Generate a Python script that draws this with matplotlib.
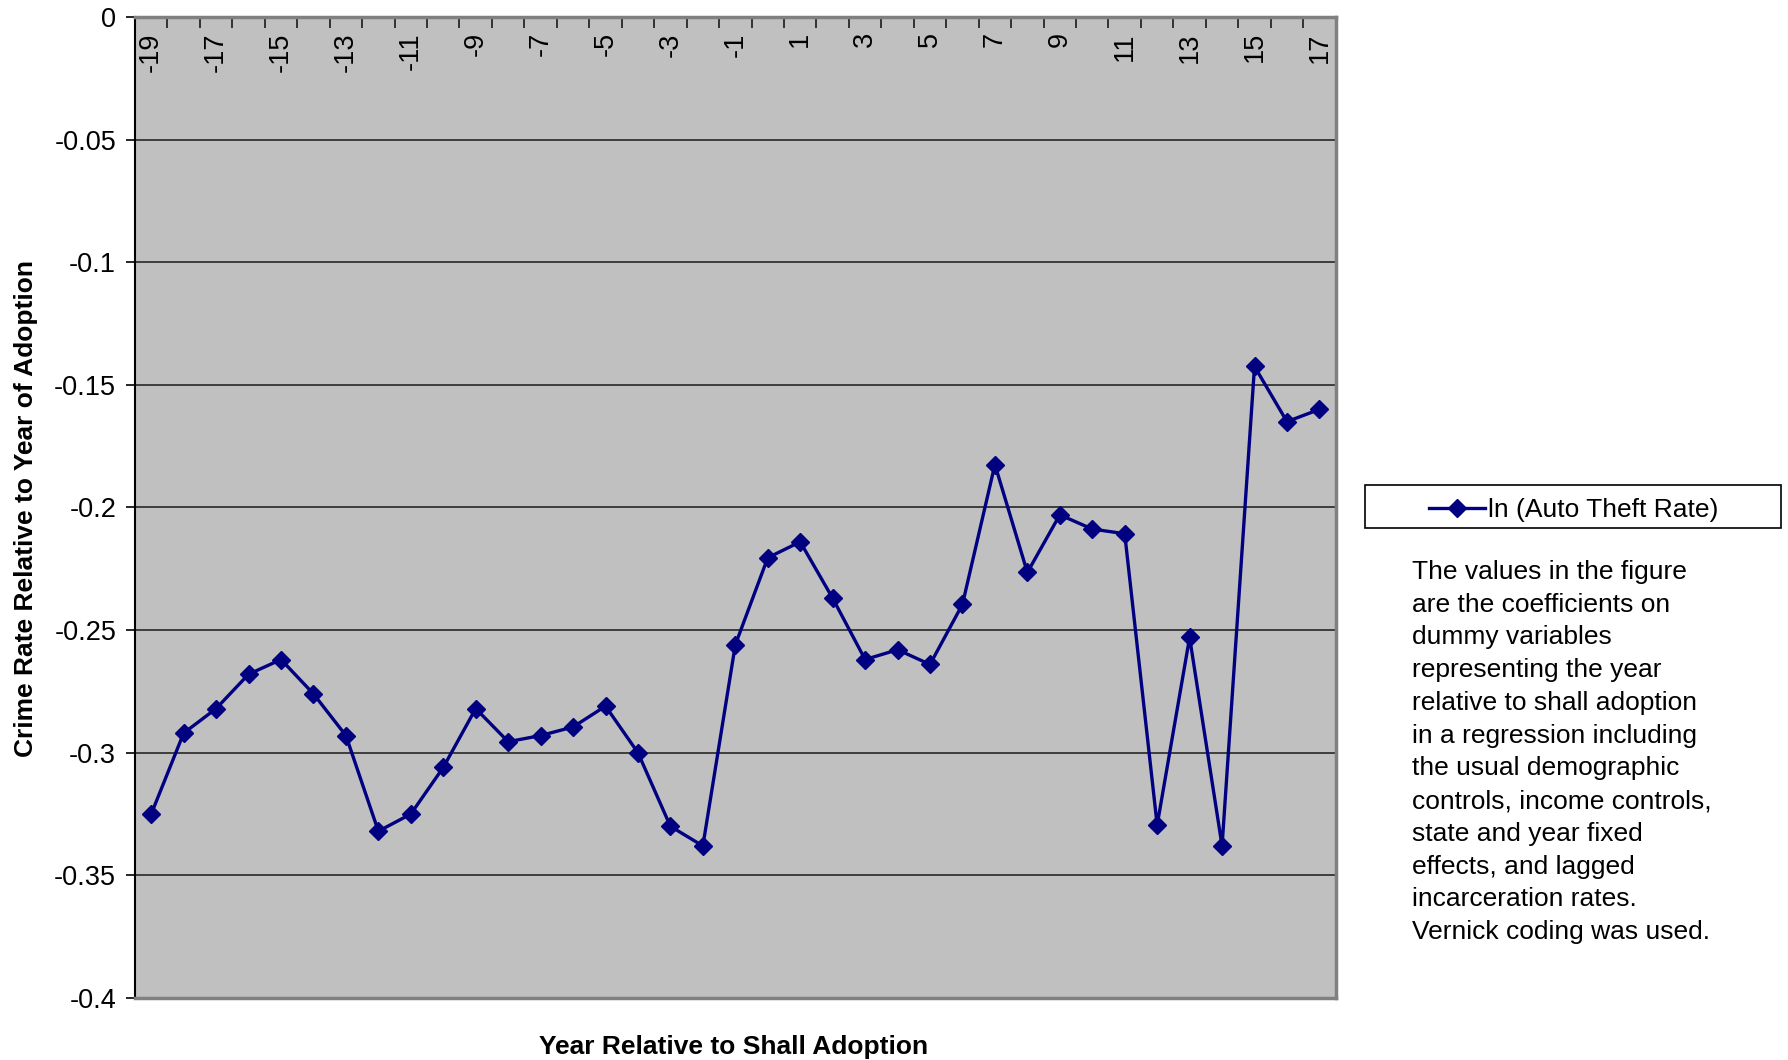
import matplotlib
matplotlib.use("Agg")
import matplotlib.pyplot as plt
from matplotlib.patches import Rectangle

plt.rcParams['font.family'] = ['Liberation Sans', 'DejaVu Sans']

# year relative to shall adoption
years = [-19, -18, -17, -16, -15, -14, -13, -12, -11, -10, -9, -8, -7, -6, -5, -4, -3, -2, -1,
         0, 1, 2, 3, 4, 5, 6, 7, 8, 9, 10, 11, 12, 13, 14, 15, 16, 17]
# ln (auto theft rate) coefficients
auto_theft = [-0.325, -0.292, -0.282, -0.268, -0.262, -0.276, -0.293, -0.332, -0.325, -0.306,
              -0.282, -0.2955, -0.293, -0.2895, -0.281, -0.300, -0.330, -0.338, -0.256,
              -0.2205, -0.214, -0.237, -0.262, -0.258, -0.264, -0.2395, -0.1825, -0.2265,
              -0.203, -0.2088, -0.2107, -0.3295, -0.253, -0.338, -0.1425, -0.165, -0.160]
ytick_vals = [0, -0.05, -0.1, -0.15, -0.2, -0.25, -0.3, -0.35, -0.4]
ytick_labels = ['0', '-0.05', '-0.1', '-0.15', '-0.2', '-0.25', '-0.3', '-0.35', '-0.4']
series_name = 'ln (Auto Theft Rate)'
note = ("The values in the figure\nare the coefficients on\ndummy variables\n"
        "representing the year\nrelative to shall adoption\nin a regression including\n"
        "the usual demographic\ncontrols, income controls,\nstate and year fixed\n"
        "effects, and lagged\nincarceration rates.\nVernick coding was used.")

fig = plt.figure(figsize=(17.88, 10.60), dpi=100)
ax = fig.add_axes([0.0755, 0.0585, 0.6715, 0.9255])
ax.set_facecolor('#C0C0C0')

ax.plot(years, auto_theft, color='#000080', lw=2.4, marker='D', ms=9.5,
        mec='#000080', mfc='#000080', label=series_name, zorder=3)

ax.set_xlim(years[0] - 0.5, years[-1] + 0.5)
ax.set_ylim(-0.4, 0)

# y axis
ax.set_yticks(ytick_vals)
ax.set_yticklabels(ytick_labels)
ax.tick_params(axis='y', direction='out', length=6.5, width=1.2, labelsize=19.5, pad=7)
ax.grid(axis='y', color='#1a1a1a', lw=1.1)
ax.set_axisbelow(True)

# x axis sits on y = 0 (top of the plot), labels hang below it
ax.spines['bottom'].set_position(('data', 0))
ax.spines['bottom'].set_color('#808080')
ax.spines['bottom'].set_linewidth(2.5)
ax.spines['top'].set_visible(False)
ax.spines['right'].set_color('#808080')
ax.spines['right'].set_linewidth(2.5)
ax.spines['left'].set_color('black')
ax.spines['left'].set_linewidth(1.5)
ax.axhline(-0.4, color='#808080', lw=2.5, zorder=4, clip_on=False)

ax.set_xticks(years[::2])
ax.set_xticklabels([str(y) for y in years[::2]], rotation=90, va='top', ha='center')
ax.set_xticks([y + 0.5 for y in years[:-1]] + [years[0] - 0.5], minor=True)
ax.tick_params(axis='x', which='major', length=0, labelsize=19.5, pad=11)
ax.tick_params(axis='x', which='minor', direction='out', length=8, width=1.2, color='#1a1a1a')

fig.text(0.4105, 0.0058, 'Year Relative to Shall Adoption', ha='center', va='baseline',
         fontsize=19, fontweight='bold')
fig.text(0.0145, 0.520, 'Crime Rate Relative to Year of Adoption', ha='center', va='center',
         rotation=90, fontsize=19, fontweight='bold')

# legend box
fig.patches.append(Rectangle((0.7634, 0.5019), 0.2327, 0.0406, transform=fig.transFigure,
                             fill=False, edgecolor='black', lw=1.2))
fig.legend(loc='center', bbox_to_anchor=(0.8803, 0.519), frameon=False, fontsize=19,
           handlelength=2.1, handletextpad=0.15, borderpad=0)

fig.text(0.7897, 0.4717, note, ha='left', va='top', fontsize=19, linespacing=1.46)

fig.savefig('out.png', dpi=100)
